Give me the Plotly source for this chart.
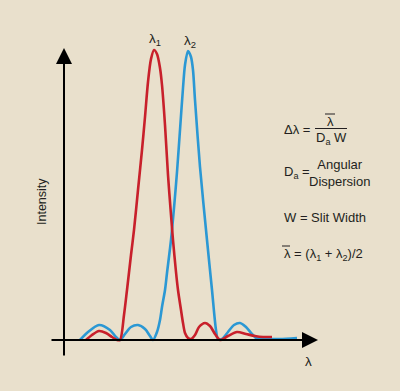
import plotly.graph_objects as go

# ---- data (wavelength in arbitrary units, intensity normalised) ----
red_wavelength = [86, 92, 99, 106, 112, 117, 120, 124, 127, 131, 134, 138, 142, 145, 148, 151, 154,
                  157, 160, 162, 165, 168, 171, 173, 176, 178, 181, 183, 185, 188, 191, 195, 199,
                  205, 210, 215, 220, 228, 237, 246, 255, 263, 272]
red_intensity_px = [0, 5, 9, 7, 3, 0, 0, 25, 50, 85, 110, 150, 190, 223, 258, 281, 290,
                    286, 272, 255, 215, 165, 125, 100, 68, 50, 30, 17, 7, 2, 1, 5, 13,
                    17, 14, 6, 0, 4, 8, 6, 4, 3, 3]
blue_wavelength = [80, 88, 99, 110, 116, 120, 125, 131, 138, 145, 150, 153, 157, 160, 162, 165, 167,
                   171, 174, 177, 180, 183, 185, 188, 191, 193, 195, 200, 207, 212, 216, 218, 222,
                   228, 234, 240, 246, 252, 256, 260, 270, 280, 297]
blue_intensity_px = [0, 8, 15, 10, 3, 0, 6, 13, 15, 11, 4, 0, 8, 20, 33, 50, 67,
                     100, 132, 168, 210, 252, 275, 289, 283, 270, 240, 173, 100, 50, 10, 1, 1,
                     8, 15, 17, 13, 6, 2, 1, 1, 1, 2]
PEAK = 290.0
red_intensity = [v / PEAK for v in red_intensity_px]
blue_intensity = [v / PEAK for v in blue_intensity_px]

BG = "#e9e0cc"
RED = "#c8202b"
BLUE = "#2b98d4"
INK = "#231f20"
FONT = "Liberation Sans"

W, H = 400, 391
YMIN = -51 / 290
YMAX = YMIN + H / 290


def px(x):
    return x / W


def py(y):
    return 1 - y / H


fig = go.Figure()
fig.add_trace(go.Scatter(x=blue_wavelength, y=blue_intensity, mode="lines",
                         line=dict(color=BLUE, width=2.6, shape="spline", smoothing=0.8),
                         hoverinfo="skip", showlegend=False))
fig.add_trace(go.Scatter(x=red_wavelength, y=red_intensity, mode="lines",
                         line=dict(color=RED, width=2.6, shape="spline", smoothing=0.8),
                         hoverinfo="skip", showlegend=False))

ann = []
# axes arrows
ann.append(dict(x=318, y=0, ax=50, ay=0, xref="x", yref="y", axref="x", ayref="y",
                text="", showarrow=True, arrowhead=2, arrowsize=1.6, arrowwidth=2,
                arrowcolor="#000", standoff=0))
ann.append(dict(x=64, y=(340 - 48) / PEAK, ax=64, ay=(340 - 357) / PEAK, xref="x", yref="y",
                axref="x", ayref="y", text="", showarrow=True, arrowhead=2, arrowsize=1.6,
                arrowwidth=2, arrowcolor="#000", standoff=0))


def text(t, x, y, xanchor="left", size=13, angle=0, align="left"):
    ann.append(dict(x=px(x), y=py(y), xref="paper", yref="paper", text=t, showarrow=False,
                    xanchor=xanchor, yanchor="middle", textangle=angle, align=align,
                    font=dict(family=FONT, size=size, color=INK)))


text("λ<sub>1</sub>", 155, 39, "center", 13.5)
text("λ<sub>2</sub>", 190, 42, "center", 13.5)
text("Intensity", 42, 202, "center", 12.5, angle=-90)
text("λ", 308, 361, "center", 13.5)
text("Δλ =", 282, 129)
text("λ", 330, 121, "center")
text("D<sub>a</sub> W", 331, 138, "center")
text("D<sub>a</sub> =", 282, 173)
text("Angular<br>Dispersion", 339, 173, "center", align="center")
text("W = Slit Width", 282, 217)
text("λ = (λ<sub>1</sub> + λ<sub>2</sub>)/2", 282, 254)

shapes = [
    dict(type="line", xref="paper", yref="paper", x0=px(315), x1=px(347), y0=py(128.5), y1=py(128.5),
         line=dict(color=INK, width=1)),
    dict(type="line", xref="paper", yref="paper", x0=px(325), x1=px(335), y0=py(114), y1=py(114),
         line=dict(color=INK, width=1)),
    dict(type="line", xref="paper", yref="paper", x0=px(282), x1=px(290), y0=py(246), y1=py(246),
         line=dict(color=INK, width=1)),
]

fig.update_layout(
    width=W, height=H, margin=dict(l=0, r=0, t=0, b=0),
    paper_bgcolor=BG, plot_bgcolor=BG,
    xaxis=dict(range=[0, W], visible=False, fixedrange=True),
    yaxis=dict(range=[YMIN, YMAX], visible=False, fixedrange=True),
    annotations=ann, shapes=shapes, showlegend=False,
)
fig.write_html("out.html", config={"displayModeBar": False},
               post_script="document.body.style.margin='0';document.body.style.overflow='hidden';"
                           "document.body.style.background='" + BG + "';")
